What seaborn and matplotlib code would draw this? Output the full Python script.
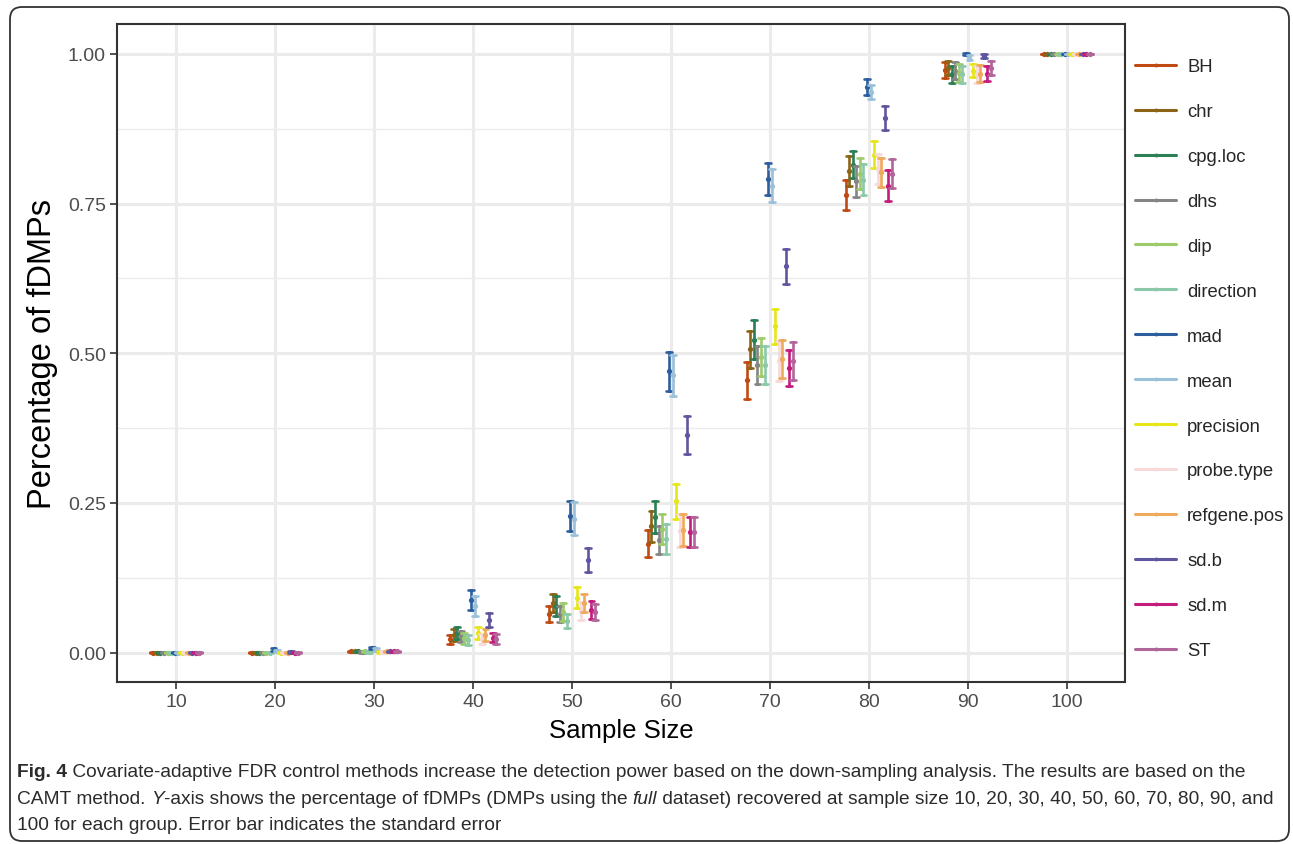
import numpy as np
import pandas as pd
import matplotlib
matplotlib.use("Agg")
import matplotlib.pyplot as plt
import seaborn as sns
from matplotlib.lines import Line2D
from matplotlib.patches import FancyBboxPatch
from matplotlib.transforms import IdentityTransform

# ---------------- data ----------------
sample_sizes = [10, 20, 30, 40, 50, 60, 70, 80, 90, 100]
methods = ["BH", "chr", "cpg.loc", "dhs", "dip", "direction", "mad", "mean",
           "precision", "probe.type", "refgene.pos", "sd.b", "sd.m", "ST"]
colors = ["#C04B12", "#8C6418", "#2A7F55", "#858585", "#9DCB6B", "#8BC9A9",
          "#2D5F9E", "#9BC0DA", "#E6E619", "#F7D9D9", "#EFA95A", "#5F56A0",
          "#C51B7D", "#B0669A"]

# mean percentage of fDMPs recovered (rows = methods, cols = sample sizes)
mean_values = [
    [0.000, 0.000, 0.002, 0.022, 0.065, 0.182, 0.455, 0.765, 0.973, 1.0],  # BH
    [0.000, 0.000, 0.002, 0.030, 0.083, 0.211, 0.507, 0.805, 0.976, 1.0],  # chr
    [0.000, 0.000, 0.002, 0.033, 0.078, 0.227, 0.523, 0.815, 0.966, 1.0],  # cpg.loc
    [0.000, 0.000, 0.001, 0.027, 0.065, 0.188, 0.481, 0.787, 0.972, 1.0],  # dhs
    [0.000, 0.000, 0.002, 0.024, 0.068, 0.207, 0.494, 0.800, 0.968, 1.0],  # dip
    [0.000, 0.000, 0.001, 0.021, 0.053, 0.190, 0.480, 0.790, 0.966, 1.0],  # direction
    [0.000, 0.005, 0.008, 0.088, 0.229, 0.470, 0.791, 0.945, 1.000, 1.0],  # mad
    [0.000, 0.003, 0.005, 0.078, 0.224, 0.463, 0.780, 0.936, 0.994, 1.0],  # mean
    [0.000, 0.000, 0.001, 0.033, 0.092, 0.253, 0.545, 0.832, 0.972, 1.0],  # precision
    [0.000, 0.000, 0.001, 0.023, 0.070, 0.204, 0.487, 0.808, 0.966, 1.0],  # probe.type
    [0.000, 0.000, 0.002, 0.030, 0.083, 0.205, 0.491, 0.802, 0.967, 1.0],  # refgene.pos
    [0.000, 0.001, 0.002, 0.055, 0.155, 0.364, 0.645, 0.893, 0.997, 1.0],  # sd.b
    [0.000, 0.000, 0.002, 0.025, 0.072, 0.202, 0.476, 0.780, 0.967, 1.0],  # sd.m
    [0.000, 0.000, 0.002, 0.023, 0.068, 0.202, 0.487, 0.800, 0.977, 1.0],  # ST
]
# standard errors
se_values = [
    [0.0005, 0.0005, 0.001, 0.007, 0.013, 0.023, 0.031, 0.025, 0.013, 0.0],
    [0.0005, 0.0005, 0.001, 0.010, 0.015, 0.026, 0.031, 0.025, 0.012, 0.0],
    [0.0005, 0.0005, 0.001, 0.010, 0.016, 0.027, 0.032, 0.023, 0.014, 0.0],
    [0.0005, 0.0005, 0.001, 0.010, 0.013, 0.024, 0.032, 0.026, 0.014, 0.0],
    [0.0005, 0.0005, 0.001, 0.009, 0.015, 0.025, 0.032, 0.026, 0.015, 0.0],
    [0.0005, 0.0005, 0.001, 0.009, 0.012, 0.025, 0.032, 0.026, 0.014, 0.0],
    [0.0005, 0.002, 0.002, 0.016, 0.025, 0.033, 0.027, 0.013, 0.002, 0.0],
    [0.0005, 0.002, 0.002, 0.017, 0.027, 0.034, 0.027, 0.012, 0.004, 0.0],
    [0.0005, 0.0005, 0.001, 0.010, 0.017, 0.029, 0.029, 0.022, 0.011, 0.0],
    [0.0005, 0.0005, 0.001, 0.009, 0.015, 0.027, 0.033, 0.025, 0.014, 0.0],
    [0.0005, 0.0005, 0.001, 0.010, 0.015, 0.027, 0.032, 0.024, 0.014, 0.0],
    [0.0005, 0.001, 0.001, 0.012, 0.020, 0.032, 0.029, 0.020, 0.003, 0.0],
    [0.0005, 0.0005, 0.001, 0.008, 0.015, 0.025, 0.030, 0.026, 0.013, 0.0],
    [0.0005, 0.0005, 0.001, 0.008, 0.014, 0.025, 0.032, 0.024, 0.012, 0.0],
]
y_ticks = [0.00, 0.25, 0.50, 0.75, 1.00]
y_tick_labels = ["0.00", "0.25", "0.50", "0.75", "1.00"]

# build long table: two rows per group (mean - se, mean + se) so that the
# mean is the estimator and the full range is the +/- se error bar
rows = []
for m, mv, sv in zip(methods, mean_values, se_values):
    for n, mu, s in zip(sample_sizes, mv, sv):
        rows.append({"method": m, "size": str(n), "value": mu - s})
        rows.append({"method": m, "size": str(n), "value": mu + s})
df = pd.DataFrame(rows)

# ---------------- figure ----------------
W, H = 1293, 845
sns.set_theme(style="white")
plt.rcParams["font.family"] = ["Liberation Sans", "DejaVu Sans"]

fig = plt.figure(figsize=(W / 100, H / 100), dpi=100)
ax_l, ax_r, ax_t, ax_b = 117, 1125, 25, 683
ax = fig.add_axes([ax_l / W, 1 - ax_b / H, (ax_r - ax_l) / W, (ax_b - ax_t) / H])

sns.pointplot(
    data=df, x="size", y="value", hue="method",
    order=[str(n) for n in sample_sizes], hue_order=methods,
    palette=colors, estimator="mean", errorbar=("pi", 100),
    dodge=0.465, linestyle="none", marker="o", markersize=3.8,
    markeredgewidth=0, capsize=0.06, err_kws={"linewidth": 1.9},
    legend=False, ax=ax, zorder=3,
)

ax.set_xlim(-0.6, 9.59)
ax.set_ylim(-0.049, 1.05)
ax.set_yticks(y_ticks)
ax.set_yticklabels(y_tick_labels)
ax.set_yticks([0.125, 0.375, 0.625, 0.875], minor=True)
ax.set_xticks(range(len(sample_sizes)))
ax.set_xticklabels([str(n) for n in sample_sizes])
ax.set_axisbelow(True)
ax.grid(True, which="major", axis="both", color="#EBEBEB", linewidth=2.2, zorder=0)
ax.grid(True, which="minor", axis="y", color="#EBEBEB", linewidth=1.0, zorder=0)
for sp in ax.spines.values():
    sp.set_color("#333333")
    sp.set_linewidth(1.5)
ax.tick_params(axis="both", which="major", direction="out", length=5, width=1.2,
               color="#333333", labelcolor="#4D4D4D", labelsize=14, pad=3,
               bottom=True, left=True)
ax.tick_params(axis="y", which="minor", length=0)
ax.set_xlabel("Sample Size", fontsize=18.5, color="black", labelpad=6)
ax.set_ylabel("Percentage of fDMPs", fontsize=23.5, color="black", labelpad=7)

# legend
handles = [Line2D([0], [0], color=c, linewidth=2.2, marker="o", markersize=2.8,
                  markeredgewidth=0) for c in colors]
leg = fig.legend(handles, methods, loc="upper left",
                 bbox_to_anchor=(1128 / W, 1 - 52 / H), frameon=False,
                 fontsize=13.3, handlelength=2.2, handletextpad=0.6,
                 labelspacing=1.51, borderaxespad=0)

# outer rounded frame
frame = FancyBboxPatch((10, 3), 1279, 834, boxstyle="round,pad=0,rounding_size=12",
                       transform=IdentityTransform(), fill=False,
                       edgecolor="#333333", linewidth=1.3)
fig.add_artist(frame)

# caption
cap_family = ["Liberation Sans Narrow", "Liberation Sans", "DejaVu Sans"]

fig.canvas.draw()
renderer = fig.canvas.get_renderer()


def run_width(txt, size, weight, style):
    t1 = fig.text(0, 0, "|" + txt + "|", fontsize=size, fontweight=weight,
                  fontstyle=style, family=cap_family)
    t2 = fig.text(0, 0, "||", fontsize=size, fontweight=weight,
                  fontstyle=style, family=cap_family)
    w = t1.get_window_extent(renderer).width - t2.get_window_extent(renderer).width
    t1.remove()
    t2.remove()
    return w


caption_lines = [
    [("Fig. 4", "bold", "normal"),
     (" Covariate-adaptive FDR control methods increase the detection power based on the down-sampling analysis. The results are based on the", "normal", "normal")],
    [("CAMT method. ", "normal", "normal"), ("Y", "normal", "italic"),
     ("-axis shows the percentage of fDMPs (DMPs using the ", "normal", "normal"),
     ("full", "normal", "italic"),
     (" dataset) recovered at sample size 10, 20, 30, 40, 50, 60, 70, 80, 90, and", "normal", "normal")],
    [("100 for each group. Error bar indicates the standard error", "normal", "normal")],
]

base = 10.0
widest = max(sum(run_width(t, base, wt, st) for t, wt, st in line)
             for line in caption_lines)
cap_size = base * 1258 / widest
line_y = [773, 800, 826]
for runs, yy in zip(caption_lines, line_y):
    x = 17
    for t, wt, st in runs:
        fig.text(x / W, 1 - yy / H, t, fontsize=cap_size, fontweight=wt, fontstyle=st,
                 family=cap_family, color="#2B2B2B",
                 ha="left", va="center")
        x += run_width(t, cap_size, wt, st)

fig.savefig("out.png", dpi=100)
